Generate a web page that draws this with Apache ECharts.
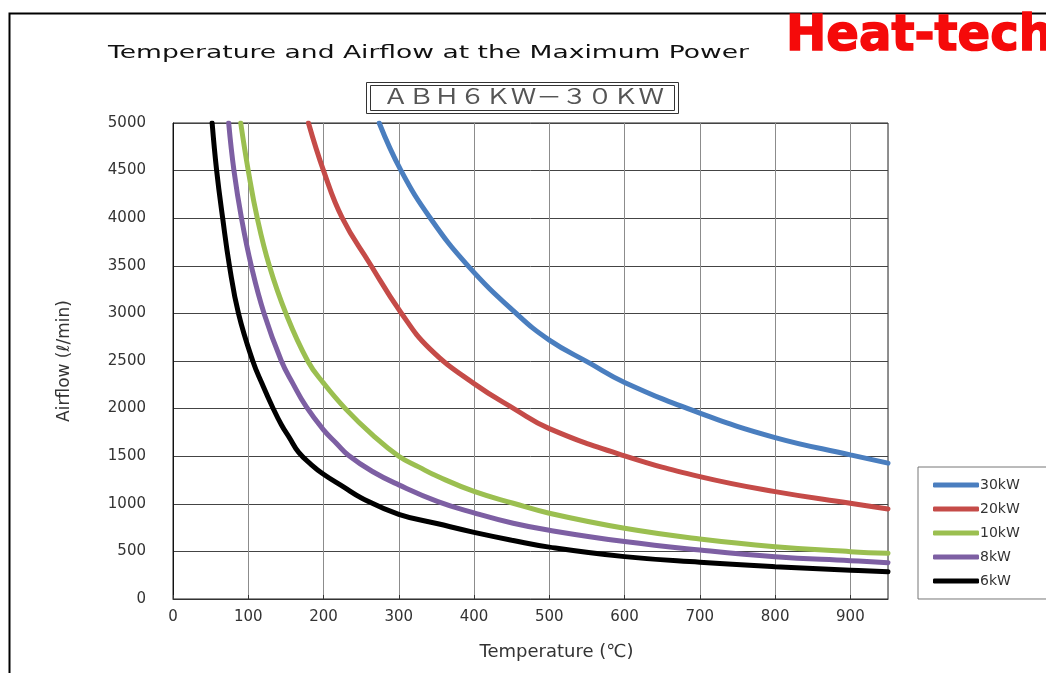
<!DOCTYPE html>
<html>
<head>
<meta charset="utf-8">
<title>Temperature and Airflow at the Maximum Power</title>
<script src="https://cdn.jsdelivr.net/npm/echarts@6/dist/echarts.min.js"></script>
<style>
  html, body { margin: 0; padding: 0; background: #fff; }
  #chart { width: 1046px; height: 673px; }
</style>
</head>
<body>
<div id="chart"></div>
<script>
// [温度(℃), 风量(l/min)] 从图上读出
const kw30 = [[274, 5000], [303, 4500], [342, 4000], [392, 3500], [456, 3000], [500, 2720],
  [553, 2480], [600, 2275], [700, 1953], [800, 1696], [900, 1514], [950, 1427]]
const kw20 = [[180, 5000], [200, 4500], [225, 4000], [261, 3530], [303, 3007], [341, 2630],
  [400, 2262], [455, 1990], [500, 1790], [600, 1504], [700, 1286], [800, 1128], [900, 1006], [950, 946]]
const kw10 = [[90, 5000], [100, 4500], [112, 4000], [128, 3500], [150, 3000], [179, 2500],
  [200, 2268], [229, 2000], [265, 1724], [300, 1500], [327, 1385], [352, 1286], [400, 1130],
  [452, 1006], [500, 901], [600, 743], [700, 631], [800, 550], [900, 497], [950, 480]]
const kw8 = [[74, 5000], [81, 4500], [91, 4000], [104, 3500], [121, 3000], [144, 2500],
  [159, 2268], [177, 2020], [200, 1777], [217, 1637], [233, 1510], [265, 1339], [300, 1199],
  [352, 1023], [400, 905], [452, 796], [500, 722], [600, 603], [700, 515], [800, 445],
  [900, 403], [950, 382]]
const kw6 = [[52, 5000], [58, 4500], [66, 4000], [75, 3500], [87, 3000], [106, 2500],
  [119, 2250], [132, 2020], [144, 1830], [155, 1690], [167, 1540], [184, 1410], [200, 1310],
  [226, 1180], [251, 1059], [300, 890], [352, 790], [400, 700], [452, 615], [500, 545],
  [600, 445], [700, 386], [800, 340], [900, 303], [950, 285]]

const seriesNames = ['30kW', '20kW', '10kW', '8kW', '6kW']
const seriesData = [kw30, kw20, kw10, kw8, kw6]
const seriesColors = ['#4a7ebf', '#c54b48', '#9bbf50', '#7d5fa3', '#000000']

const TITLE = 'Temperature and Airflow at the Maximum Power'
const MODEL = 'ＡＢＨ６ＫＷ－３０ＫＷ'
const BRAND = 'Heat-tech'
const FONT = '"DejaVu Sans", "Noto Sans CJK JP", sans-serif'
const TITLE_FONT = '18px ' + FONT
const MODEL_FONT = '21px "Noto Sans CJK JP", sans-serif'
const BRAND_FONT = 'bold 49px "DejaVu Sans", sans-serif'

// 原图字体偏宽，用 scaleX 拉到相同宽度
const measureCtx = document.createElement('canvas').getContext('2d')
function fitScale(text, font, width) {
  measureCtx.font = font
  return width / measureCtx.measureText(text).width
}

const chart = echarts.init(document.getElementById('chart'))

const option = {
  backgroundColor: '#fff',
  animation: false,
  grid: {
    left: 173, top: 123, right: 158, bottom: 74,
    show: true, borderColor: '#222', borderWidth: 1
  },
  legend: {
    orient: 'vertical',
    left: 918, top: 467,
    data: seriesNames,
    icon: 'roundRect',
    itemWidth: 46, itemHeight: 5,
    itemGap: 10,
    padding: [11, 60, 11, 15],
    borderColor: '#777', borderWidth: 1,
    textStyle: { fontFamily: FONT, fontSize: 14, color: '#333', padding: [0, 0, 0, -4] }
  },
  xAxis: {
    type: 'value', min: 0, max: 950, interval: 100,
    name: 'Temperature (℃)',
    nameLocation: 'middle', nameGap: 44,
    nameTextStyle: { fontFamily: FONT, fontSize: 18, color: '#333', padding: [0, 0, 0, 52] },
    axisLine: { lineStyle: { color: '#333' } },
    axisTick: { show: true, inside: true, length: 4, lineStyle: { color: '#333' } },
    axisLabel: { fontFamily: FONT, fontSize: 15, color: '#333', margin: 11, showMaxLabel: false },
    splitLine: { lineStyle: { color: '#8c8c8c', width: 1 } }
  },
  yAxis: {
    type: 'value', min: 0, max: 5000, interval: 500,
    name: 'Airflow (ℓ/min)',
    nameLocation: 'middle', nameGap: 100,
    nameTextStyle: { fontFamily: FONT, fontSize: 17, color: '#333' },
    axisLine: { show: true, lineStyle: { color: '#111' } },
    axisTick: { show: false },
    axisLabel: {
      fontFamily: FONT, fontSize: 15, color: '#333', margin: 27,
      formatter: v => String(v)
    },
    splitLine: { lineStyle: { color: '#444', width: 1 } }
  },
  series: seriesNames.map((name, i) => ({
    type: 'line',
    name: name,
    data: seriesData[i],
    smooth: 0.45,
    showSymbol: false,
    lineStyle: { color: seriesColors[i], width: 5, cap: 'round' },
    itemStyle: { color: seriesColors[i] }
  })),
  graphic: [
    // 外框
    {
      type: 'rect', left: 7, top: 11, silent: true,
      shape: { width: 1100, height: 700 },
      style: { fill: 'none', stroke: '#000', lineWidth: 2 }
    },
    {
      type: 'text', x: 108, y: 53, scaleX: fitScale(TITLE, TITLE_FONT, 641),
      style: { text: TITLE, font: TITLE_FONT, fill: '#111', verticalAlign: 'middle' }
    },
    // 型号框（双线）
    {
      type: 'rect', left: 364, top: 80, silent: true,
      shape: { width: 312, height: 31 },
      style: { fill: 'none', stroke: '#333', lineWidth: 1 }
    },
    {
      type: 'rect', left: 368, top: 83, silent: true,
      shape: { width: 304, height: 25 },
      style: { fill: 'none', stroke: '#333', lineWidth: 1 }
    },
    {
      type: 'text', x: 383, y: 96, scaleX: fitScale(MODEL, MODEL_FONT, 281),
      style: { text: MODEL, font: MODEL_FONT, fill: '#555', verticalAlign: 'middle' }
    },
    {
      type: 'text', x: 786, y: 37, scaleX: fitScale(BRAND, BRAND_FONT, 267),
      style: {
        text: BRAND, font: BRAND_FONT, fill: '#f50a0a', verticalAlign: 'middle',
        stroke: '#f50a0a', lineWidth: 1.5
      }
    }
  ]
}

chart.setOption(option)
</script>
</body>
</html>
